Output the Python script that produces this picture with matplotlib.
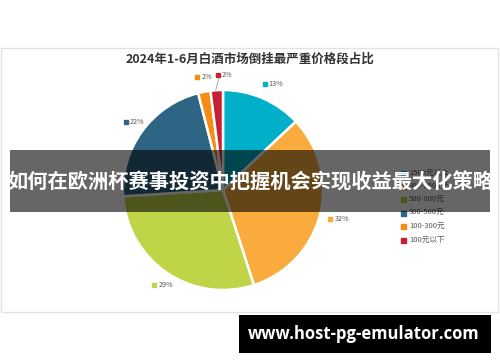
import numpy as np
import matplotlib
matplotlib.use("Agg")
from matplotlib import pyplot as plt
from matplotlib.patches import Rectangle

plt.rcParams['font.family'] = ['Noto Sans CJK SC', 'DejaVu Sans']

# Données
categories = ["1500元以上", "800-1500元", "500-800元", "300-500元", "100-300元", "100元以下"]
parts = [13, 32, 29, 22, 2, 2]
couleurs = ["#00b0c9", "#f9ac3d", "#c0d448", "#2e6584", "#f88c12", "#c61f36"]
titre = "2024年1-6月白酒市场倒挂最严重价格段占比"
bandeau = "如何在欧洲杯赛事投资中把握机会实现收益最大化策略"
site = "www.host-pg-emulator.com"

W, H = 500, 362


def main():
  fig = plt.figure(figsize=(5, 3.62), dpi=100)
  ax = fig.add_axes([0, 0, 1, 1])

  cx, cy, r = 223, H - 190, 100

  # cadre du graphique
  ax.add_patch(Rectangle((1, H - 312), 497, 264, facecolor="white",
                         edgecolor="#e2e2e2", linewidth=1, zorder=0))

  explode = [0.01, 0.06, 0.01, 0, 0.01, 0.01]
  ax.pie(parts, colors=couleurs, startangle=90, counterclock=False,
         center=(cx, cy), radius=r, explode=explode,
         wedgeprops=dict(edgecolor="white", linewidth=1.8))

  # étiquettes de pourcentage
  total = sum(parts)
  cumul = 0
  for i, (v, c) in enumerate(zip(parts, couleurs)):
    mid = 90 - (cumul + v / 2) / total * 360
    cumul += v
    a = np.deg2rad(mid)
    x = cx + 1.15 * r * np.cos(a)
    y = cy + 1.15 * r * np.sin(a)
    if i == 5:
      x += 6
      ax.plot([cx + 1.0 * r * np.cos(a) - 1, x - 3], [cy + r * np.sin(a), y - 3],
              color="#a0a0a0", linewidth=0.6)
    ax.add_patch(Rectangle((x - 6, y - 2), 4, 4, color=c))
    ax.text(x, y, f"{v}%", fontsize=5.2, color="#595959", va="center", ha="left")

  # titre
  ax.text(250, H - 59, titre, fontsize=9, fontweight="bold", color="#333333",
          ha="center", va="center")

  # légende
  for i, (lab, c) in enumerate(zip(categories, couleurs)):
    y = H - (173 + i * 13.4)
    ax.add_patch(Rectangle((401, y - 2.5), 5, 5, color=c))
    ax.text(409, y, lab, fontsize=5.5, color="#595959", va="center", ha="left")

  # bandeau
  ax.add_patch(Rectangle((10, H - 212), 480, 62, facecolor="black",
                         alpha=0.6, edgecolor="none", zorder=5))
  ax.text(250, H - 182, bandeau, fontsize=14.6, fontweight="bold", color="white",
          ha="center", va="center", zorder=6)

  # filigrane
  ax.add_patch(Rectangle((239, H - 353), 252, 38, facecolor="black",
                         edgecolor="none", zorder=5))
  ax.text(364, H - 334, site, fontsize=12, fontweight="bold", color="white",
          family=["Open Sans", "DejaVu Sans"], ha="center", va="center", zorder=6)

  ax.set_xlim(0, W)
  ax.set_ylim(0, H)
  ax.set_aspect("auto")
  ax.axis("off")
  fig.savefig("out.png", dpi=100)


if __name__ == "__main__":
  main()
